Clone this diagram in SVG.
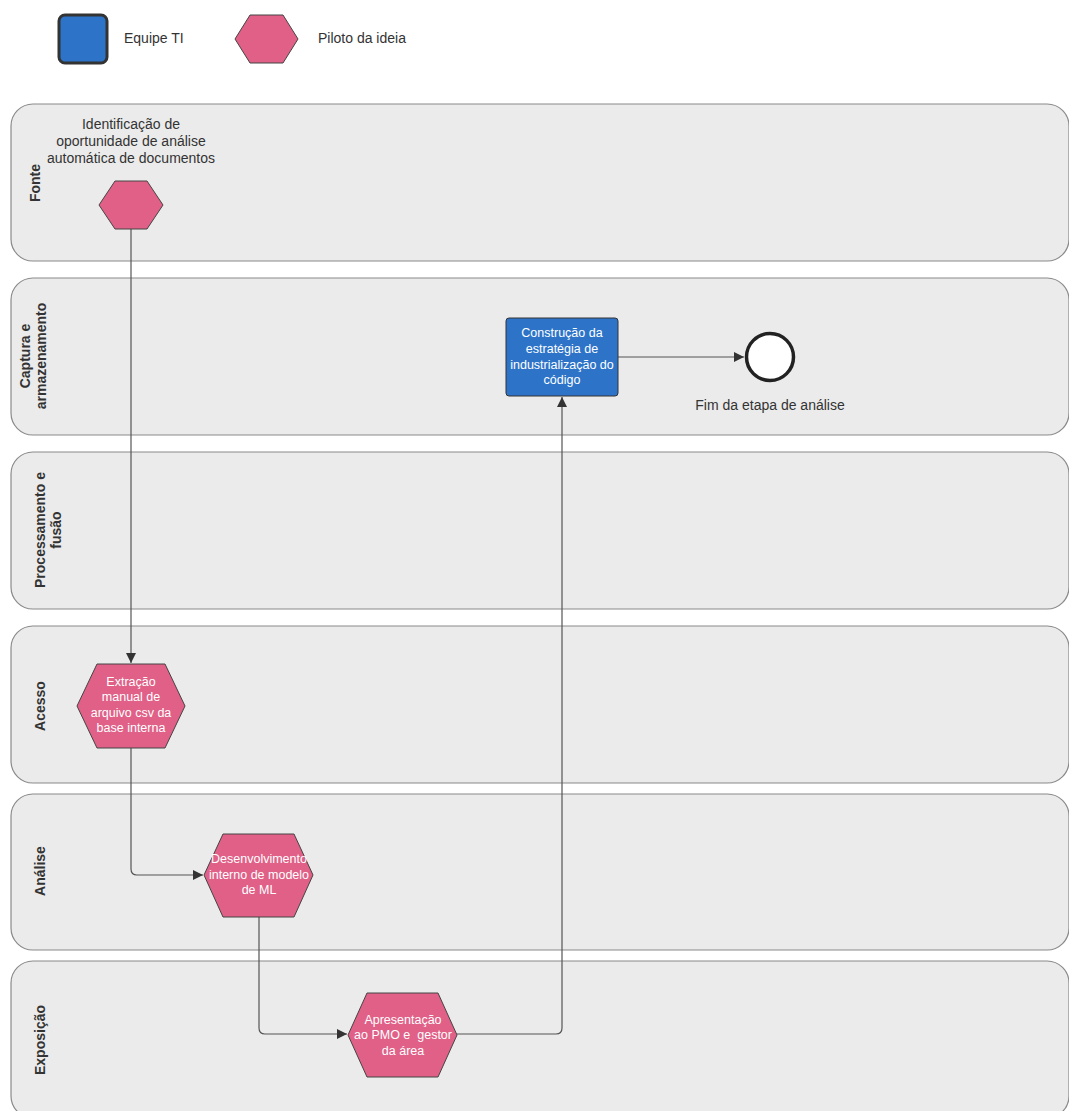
<svg xmlns="http://www.w3.org/2000/svg" width="1069" height="1111" viewBox="0 0 1069 1111">
  <style>
    .lane { fill: #ebebeb; stroke: #8a8a8a; stroke-width: 1.2; }
    .lane-title { font-family: "Liberation Sans", Arial, sans-serif; font-size: 14px; font-weight: bold; fill: #333; text-anchor: middle; }
    .hex { fill: #e06087; stroke: #444; stroke-width: 1; stroke-linejoin: round; }
    .task { fill: #2d74c9; stroke: #333; stroke-width: 1; }
    .label { font-family: "Liberation Sans", Arial, sans-serif; font-size: 14px; fill: #333; text-anchor: middle; }
    .inner { font-family: "Liberation Sans", Arial, sans-serif; font-size: 12.5px; fill: #ffffff; text-anchor: middle; white-space: pre; }
    .legend { font-family: "Liberation Sans", Arial, sans-serif; font-size: 14px; fill: #333; }
    .edge { fill: none; stroke: #555; stroke-width: 1.2; }
  </style>
  <defs>
    <marker id="arrow" viewBox="0 0 10 10" refX="10" refY="5" markerWidth="10" markerHeight="10" markerUnits="userSpaceOnUse" orient="auto">
      <path d="M0,0 L10,5 L0,10 z" fill="#333"/>
    </marker>
  </defs>

  <rect width="1069" height="1111" fill="#ffffff"/>

  <!-- Legend -->
  <g id="legend">
    <rect x="59" y="15" width="48" height="48" rx="6" fill="#2d74c9" stroke="#333" stroke-width="3"/>
    <text class="legend" x="124" y="43">Equipe TI</text>
    <polygon class="hex" points="235,39 250,15 283,15 298,39 283,63 250,63"/>
    <text class="legend" x="318" y="43">Piloto da ideia</text>
  </g>

  <!-- Swimlanes -->
  <g id="lanes">
    <g id="lane-fonte">
      <rect class="lane" x="11" y="104" width="1058" height="157" rx="22"/>
      <text class="lane-title" transform="translate(40,183) rotate(-90)">Fonte</text>
    </g>
    <g id="lane-captura">
      <rect class="lane" x="11" y="278" width="1058" height="157" rx="22"/>
      <text class="lane-title" transform="translate(30,356) rotate(-90)">Captura e</text>
      <text class="lane-title" transform="translate(46,356) rotate(-90)">armazenamento</text>
    </g>
    <g id="lane-processamento">
      <rect class="lane" x="11" y="452" width="1058" height="157" rx="22"/>
      <text class="lane-title" transform="translate(45,530) rotate(-90)">Processamento e</text>
      <text class="lane-title" transform="translate(61,530) rotate(-90)">fusão</text>
    </g>
    <g id="lane-acesso">
      <rect class="lane" x="11" y="626" width="1058" height="157" rx="22"/>
      <text class="lane-title" transform="translate(45,706) rotate(-90)">Acesso</text>
    </g>
    <g id="lane-analise">
      <rect class="lane" x="11" y="794" width="1058" height="156" rx="22"/>
      <text class="lane-title" transform="translate(45,871) rotate(-90)">Análise</text>
    </g>
    <g id="lane-exposicao">
      <rect class="lane" x="11" y="961" width="1058" height="157" rx="22"/>
      <text class="lane-title" transform="translate(45,1040) rotate(-90)">Exposição</text>
    </g>
  </g>

  <!-- Connectors -->
  <g id="connectors">
    <path class="edge" d="M131,229 L131,663" marker-end="url(#arrow)"/>
    <path class="edge" d="M131,748 L131,869 Q131,875 137,875 L203,875" marker-end="url(#arrow)"/>
    <path class="edge" d="M259,917 L259,1028 Q259,1034 265,1034 L347,1034" marker-end="url(#arrow)"/>
    <path class="edge" d="M457,1034 L556,1034 Q562,1034 562,1028 L562,397" marker-end="url(#arrow)"/>
    <path class="edge" d="M618,357 L744,357" marker-end="url(#arrow)"/>
  </g>

  <!-- Nodes -->
  <g id="node-identificacao">
    <polygon class="hex" points="99,205 115,181 147,181 163,205 147,229 115,229"/>
    <text class="label" x="131" y="129">Identificação de</text>
    <text class="label" x="131" y="146">oportunidade de análise</text>
    <text class="label" x="131" y="163">automática de documentos</text>
  </g>

  <g id="node-extracao">
    <polygon class="hex" points="77,706 97,664 165,664 185,706 165,748 97,748"/>
    <text class="inner" x="131" y="686">Extração</text>
    <text class="inner" x="131" y="701">manual de</text>
    <text class="inner" x="131" y="717">arquivo csv da</text>
    <text class="inner" x="131" y="732">base interna</text>
  </g>

  <g id="node-desenvolvimento">
    <polygon class="hex" points="204,875 223,834 294,834 313,875 294,917 223,917"/>
    <text class="inner" x="259" y="863">Desenvolvimento</text>
    <text class="inner" x="259" y="879">interno de modelo</text>
    <text class="inner" x="259" y="894">de ML</text>
  </g>

  <g id="node-apresentacao">
    <polygon class="hex" points="348,1035 367,993 438,993 457,1035 438,1077 367,1077"/>
    <text class="inner" x="403" y="1024">Apresentação</text>
    <text class="inner" x="403" y="1039" xml:space="preserve">ao PMO e  gestor</text>
    <text class="inner" x="403" y="1055">da área</text>
  </g>

  <g id="node-construcao">
    <rect class="task" x="506" y="318" width="112" height="78" rx="3"/>
    <text class="inner" x="562" y="337">Construção da</text>
    <text class="inner" x="562" y="353">estratégia de</text>
    <text class="inner" x="562" y="369">industrialização do</text>
    <text class="inner" x="562" y="384">código</text>
  </g>

  <g id="node-fim">
    <circle cx="770" cy="357" r="23.5" fill="#ffffff" stroke="#222" stroke-width="3.5"/>
    <text class="label" x="770" y="410">Fim da etapa de análise</text>
  </g>
</svg>
